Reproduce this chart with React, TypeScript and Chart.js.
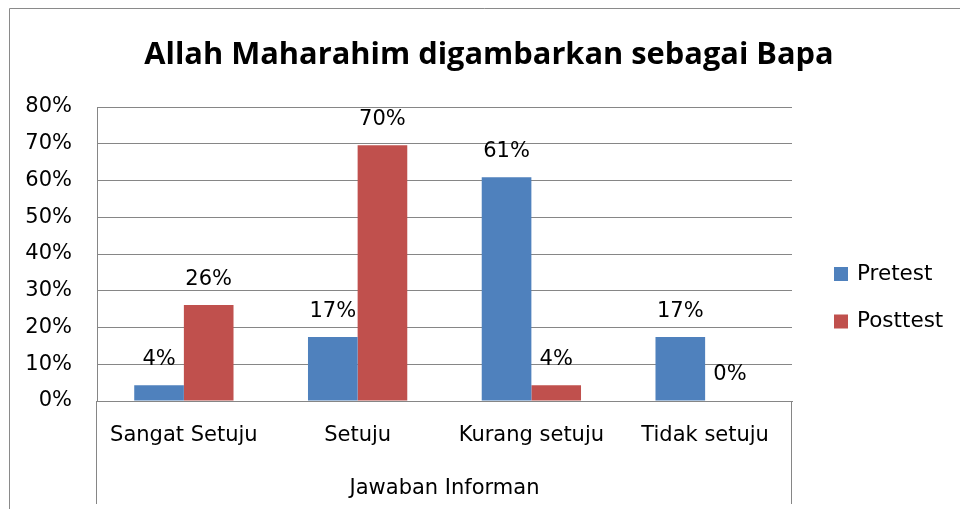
import React, { useEffect, useRef } from "react";
import { Chart, registerables } from "chart.js";

Chart.register(...registerables);

const chartTitle = "Allah Maharahim digambarkan sebagai Bapa";
const xAxisTitle = "Jawaban Informan";
const categories = ["Sangat Setuju", "Setuju", "Kurang setuju", "Tidak setuju"];
const seriesNames = ["Pretest", "Posttest"];
const pretestValues = [4.3, 17.4, 60.9, 17.4];
const posttestValues = [26.1, 69.6, 4.3, 0];
const seriesColors = ["#4F81BD", "#C0504D"];
const yMin = 0;
const yMax = 80;
const yStep = 10;

const GRID = "#868686";
const FONT = "'DejaVu Sans', sans-serif";

const decorPlugin = {
  id: "decor",
  beforeDraw(chart: any) {
    const { ctx, width, height } = chart;
    ctx.save();
    ctx.fillStyle = "#ffffff";
    ctx.fillRect(0, 0, width, height);
    ctx.strokeStyle = "#8a8a8a";
    ctx.lineWidth = 1;
    ctx.beginPath();
    ctx.moveTo(9.5, height);
    ctx.lineTo(9.5, 8.5);
    ctx.lineTo(width, 8.5);
    ctx.stroke();
    ctx.restore();
  },
  afterDatasetsDraw(chart: any) {
    const { ctx } = chart;
    ctx.save();
    ctx.font = `21px ${FONT}`;
    ctx.fillStyle = "#000";
    ctx.textAlign = "center";
    ctx.textBaseline = "middle";
    chart.data.datasets.forEach((ds: any, i: number) => {
      const meta = chart.getDatasetMeta(i);
      meta.data.forEach((el: any, j: number) => {
        const v = ds.data[j] as number;
        ctx.fillText(Math.round(v) + "%", el.x, el.y - 26);
      });
    });
    ctx.restore();
  },
  afterDraw(chart: any) {
    const { ctx, chartArea } = chart;
    ctx.save();
    // category box lines extending below the axis
    ctx.strokeStyle = GRID;
    ctx.lineWidth = 1;
    ctx.beginPath();
    const l = Math.round(chartArea.left) - 0.5;
    const r = Math.round(chartArea.right) - 0.5;
    ctx.moveTo(l, chartArea.bottom);
    ctx.lineTo(l, chartArea.bottom + 103);
    ctx.moveTo(r, chartArea.bottom);
    ctx.lineTo(r, chartArea.bottom + 103);
    ctx.stroke();

    // title
    ctx.font = `bold 30.8px 'Open Sans', sans-serif`;
    ctx.fillStyle = "#000";
    ctx.textAlign = "center";
    ctx.textBaseline = "alphabetic";
    ctx.fillText(chartTitle, 489, 64);

    // legend
    ctx.font = `21.5px ${FONT}`;
    ctx.textAlign = "left";
    ctx.textBaseline = "middle";
    chart.data.datasets.forEach((ds: any, i: number) => {
      const cy = 274 + i * 47.5;
      ctx.fillStyle = ds.backgroundColor;
      ctx.fillRect(834, cy - 7, 14, 14);
      ctx.fillStyle = "#000";
      ctx.fillText(ds.label, 857, cy);
    });
    ctx.restore();
  },
};

export default function App() {
  const ref = useRef<HTMLCanvasElement | null>(null);
  useEffect(() => {
    if (!ref.current) return;
    const chart = new Chart(ref.current, {
      type: "bar",
      data: {
        labels: categories,
        datasets: [
          {
            label: seriesNames[0],
            data: pretestValues,
            backgroundColor: seriesColors[0],
            categoryPercentage: 2 / 3.5,
            barPercentage: 1,
          },
          {
            label: seriesNames[1],
            data: posttestValues,
            backgroundColor: seriesColors[1],
            categoryPercentage: 2 / 3.5,
            barPercentage: 1,
          },
        ],
      },
      options: {
        responsive: false,
        animation: false,
        devicePixelRatio: 1,
        layout: { padding: { top: 107, right: 168, left: 0, bottom: 0 } },
        plugins: {
          legend: { display: false },
          title: { display: false },
          tooltip: { enabled: false },
        },
        scales: {
          x: {
            grid: { display: false, drawTicks: false },
            border: { display: true, color: GRID },
            ticks: {
              font: { family: FONT, size: 21 },
              color: "#000",
              padding: 22,
              maxRotation: 0,
              autoSkip: false,
            },
            title: {
              display: true,
              text: xAxisTitle,
              font: { family: FONT, size: 21 },
              color: "#000",
              padding: { top: 0, bottom: 8 },
            },
            afterFit: (s: any) => {
              s.height = 108;
            },
          },
          y: {
            min: yMin,
            max: yMax,
            grid: { color: GRID, drawTicks: false },
            border: { display: true, color: GRID },
            ticks: {
              stepSize: yStep,
              font: { family: FONT, size: 21 },
              color: "#000",
              padding: 25,
              callback: (v: any) => v + "%",
            },
            afterFit: (s: any) => {
              s.width = 97;
            },
          },
        },
      },
      plugins: [decorPlugin],
    });
    return () => chart.destroy();
  }, []);
  return (
    <div style={{ position: "fixed", left: 0, top: 0, width: 960, height: 509, background: "#fff" }}>
      <canvas ref={ref} width={960} height={509} style={{ display: "block" }} />
    </div>
  );
}
